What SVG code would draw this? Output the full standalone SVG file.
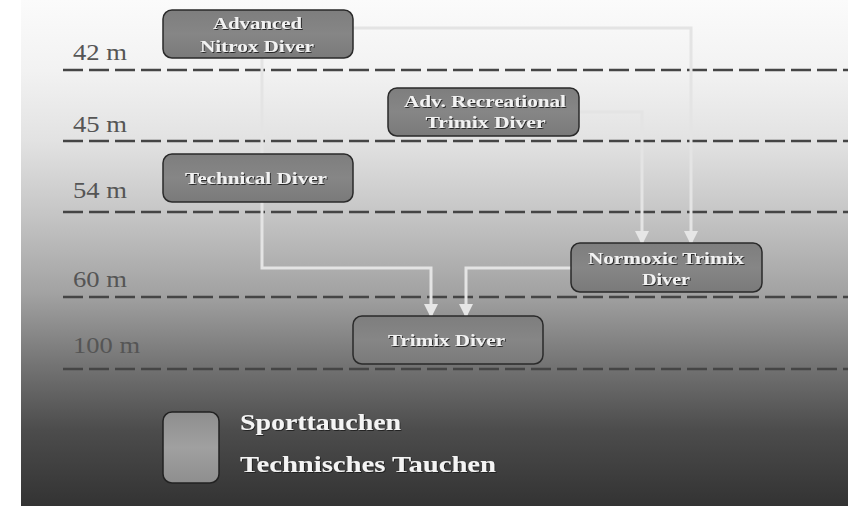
<svg xmlns="http://www.w3.org/2000/svg" width="848" height="508" viewBox="0 0 848 508">
  <defs>
    <linearGradient id="bg" x1="0" y1="0" x2="0" y2="1">
      <stop offset="0" stop-color="#fbfbfb"/>
      <stop offset="0.14" stop-color="#f2f2f2"/>
      <stop offset="0.28" stop-color="#e2e2e2"/>
      <stop offset="0.42" stop-color="#c6c6c6"/>
      <stop offset="0.58" stop-color="#a2a2a2"/>
      <stop offset="0.72" stop-color="#747474"/>
      <stop offset="0.85" stop-color="#4c4c4c"/>
      <stop offset="1" stop-color="#333333"/>
    </linearGradient>
    <linearGradient id="boxfill" x1="0" y1="0" x2="0" y2="1">
      <stop offset="0" stop-color="#7e7e7e"/>
      <stop offset="0.5" stop-color="#868686"/>
      <stop offset="1" stop-color="#7a7a7a"/>
    </linearGradient>
    <linearGradient id="legfill" x1="0" y1="0" x2="0" y2="1">
      <stop offset="0" stop-color="#8e8e8e"/>
      <stop offset="0.5" stop-color="#a0a0a0"/>
      <stop offset="1" stop-color="#8e8e8e"/>
    </linearGradient>
    <filter id="shadow" x="-10%" y="-30%" width="120%" height="160%">
      <feDropShadow dx="1" dy="1" stdDeviation="0.6" flood-color="#1a1a1a" flood-opacity="0.9"/>
    </filter>
    <marker id="arrow" markerUnits="userSpaceOnUse" markerWidth="16" markerHeight="14" refX="13" refY="7" orient="auto">
      <path d="M0,0 L14,7 L0,14 Z" fill="#e6e6e6"/>
    </marker>
    <style>
      .depth { font-family: "Liberation Serif", "Times New Roman", serif; font-size: 23px; fill: #555555; }
      .dash { stroke: #454545; stroke-width: 2.5; stroke-dasharray: 20 6; fill: none; }
      .box { fill: url(#boxfill); stroke: #2a2a2a; stroke-width: 1.5; }
      .lbl { font-family: "Liberation Serif", "Times New Roman", serif; font-size: 17px; font-weight: bold; fill: #f2f2f2; text-anchor: middle; filter: url(#shadow); }
      .leg { font-family: "Liberation Serif", "Times New Roman", serif; font-size: 24px; font-weight: bold; fill: #f4f4f4; filter: url(#shadow); }
      .conn { stroke: #e4e4e4; stroke-width: 3; fill: none; }
    </style>
  </defs>

  <rect x="0" y="0" width="848" height="508" fill="#ffffff"/>
  <rect x="21" y="0" width="827" height="506" fill="url(#bg)"/>

  <g id="depths">
    <text class="depth" x="73" y="60" textLength="54" lengthAdjust="spacingAndGlyphs">42 m</text>
    <text class="depth" x="73" y="132" textLength="54" lengthAdjust="spacingAndGlyphs">45 m</text>
    <text class="depth" x="73" y="198" textLength="54" lengthAdjust="spacingAndGlyphs">54 m</text>
    <text class="depth" x="73" y="287" textLength="54" lengthAdjust="spacingAndGlyphs" fill="#606060">60 m</text>
    <text class="depth" x="73" y="353" textLength="67" lengthAdjust="spacingAndGlyphs" fill="#6a6a6a">100 m</text>
    <line class="dash" x1="63" y1="70" x2="848" y2="70"/>
    <line class="dash" x1="63" y1="141" x2="848" y2="141"/>
    <line class="dash" x1="63" y1="212" x2="848" y2="212"/>
    <line class="dash" x1="63" y1="297" x2="848" y2="297"/>
    <line class="dash" x1="63" y1="369" x2="848" y2="369"/>
  </g>

  <g id="connectors">
    <path class="conn" d="M346,28 H691 V244" marker-end="url(#arrow)"/>
    <path class="conn" d="M579,112 H642 V244" marker-end="url(#arrow)"/>
    <path class="conn" d="M262,58 V156"/>
    <path class="conn" d="M262,202 V268 H431 V317" marker-end="url(#arrow)"/>
    <path class="conn" d="M571,268 H466 V317" marker-end="url(#arrow)"/>
  </g>

  <g id="advanced-nitrox-diver">
    <rect class="box" x="163" y="10" width="190" height="48" rx="9"/>
    <text class="lbl" x="257.5" y="29" textLength="89" lengthAdjust="spacingAndGlyphs">Advanced</text>
    <text class="lbl" x="257" y="52" textLength="114" lengthAdjust="spacingAndGlyphs">Nitrox Diver</text>
  </g>

  <g id="adv-recreational-trimix-diver">
    <rect class="box" x="388" y="88" width="191" height="48" rx="9"/>
    <text class="lbl" x="485" y="107" textLength="162" lengthAdjust="spacingAndGlyphs">Adv. Recreational</text>
    <text class="lbl" x="485.5" y="128" textLength="120" lengthAdjust="spacingAndGlyphs">Trimix Diver</text>
  </g>

  <g id="technical-diver">
    <rect class="box" x="163" y="154" width="190" height="48" rx="9"/>
    <text class="lbl" x="256" y="184" textLength="142" lengthAdjust="spacingAndGlyphs">Technical Diver</text>
  </g>

  <g id="normoxic-trimix-diver">
    <rect class="box" x="571" y="243" width="191" height="49" rx="9"/>
    <text class="lbl" x="666" y="264" textLength="156" lengthAdjust="spacingAndGlyphs">Normoxic Trimix</text>
    <text class="lbl" x="666" y="285" textLength="48" lengthAdjust="spacingAndGlyphs">Diver</text>
  </g>

  <g id="trimix-diver">
    <rect class="box" x="353" y="316" width="190" height="48" rx="9"/>
    <text class="lbl" x="446.5" y="346" textLength="117" lengthAdjust="spacingAndGlyphs">Trimix Diver</text>
  </g>

  <g id="legend">
    <rect x="163" y="412" width="56" height="71" rx="9" fill="url(#legfill)" stroke="#222222" stroke-width="1.5"/>
    <text class="leg" x="240" y="430" textLength="161" lengthAdjust="spacingAndGlyphs">Sporttauchen</text>
    <text class="leg" x="240" y="472" textLength="256" lengthAdjust="spacingAndGlyphs">Technisches Tauchen</text>
  </g>
</svg>
